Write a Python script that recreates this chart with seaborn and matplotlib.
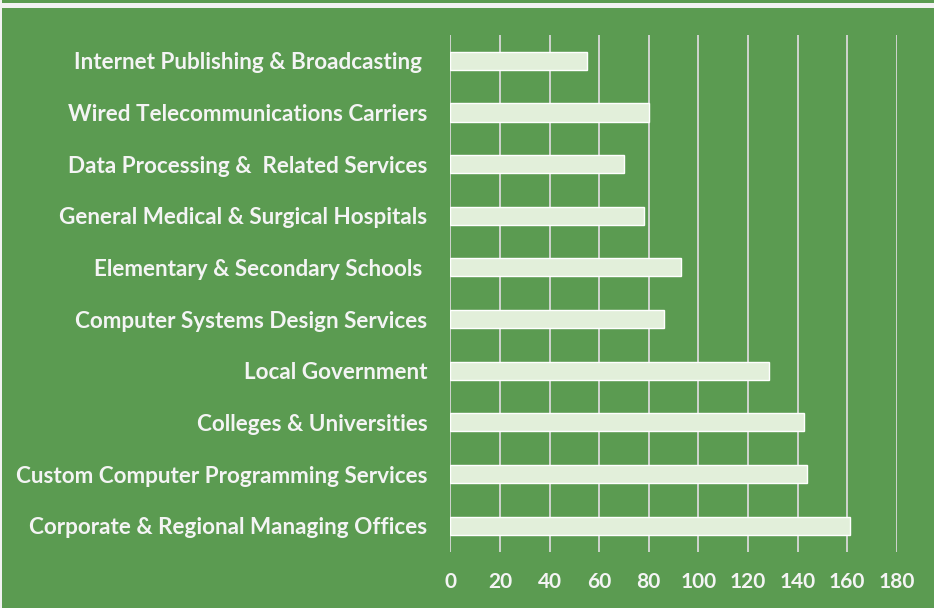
import matplotlib
matplotlib.use("Agg")
import matplotlib.pyplot as plt
import seaborn as sns
import pandas as pd
from matplotlib.patches import Rectangle

industries = [
    "Internet Publishing & Broadcasting ",
    "Wired Telecommunications Carriers",
    "Data Processing &  Related Services",
    "General Medical & Surgical Hospitals",
    "Elementary & Secondary Schools ",
    "Computer Systems Design Services",
    "Local Government",
    "Colleges & Universities",
    "Custom Computer Programming Services",
    "Corporate & Regional Managing Offices",
]
values = [55, 80, 70, 78, 93, 86, 128.5, 142.5, 144, 161]
x_ticks = [0, 20, 40, 60, 80, 100, 120, 140, 160, 180]

GREEN = "#5B9B51"
BAR = "#E2EFDA"
GRID = "#D9D9D9"
TEXT = "#F4F4F4"

sns.set_theme(style="white")
plt.rcParams["font.family"] = ["Lato", "DejaVu Sans"]

df = pd.DataFrame({"industry": industries, "value": values})

fig = plt.figure(figsize=(9.34, 6.08), dpi=100, facecolor=GREEN)
# top strip and left edge (cropped sheet border)
fig.patches.append(Rectangle((0, 1 - 8 / 608), 1, 5 / 608, transform=fig.transFigure,
                             facecolor="#F2F2F2", edgecolor="none", zorder=0))
fig.patches.append(Rectangle((0, 0), 2 / 934, 1, transform=fig.transFigure,
                             facecolor="#F2F2F2", edgecolor="none", zorder=0))

ax = fig.add_axes([450.3 / 934, 1 - 551.5 / 608, (896.7 - 450.3) / 934, (551.5 - 35) / 608])
ax.set_facecolor(GREEN)
sns.barplot(data=df, y="industry", x="value", orient="h", color=BAR, width=0.35,
            saturation=1, ax=ax, zorder=3)

ax.set_xlim(0, 180)
ax.set_xticks(x_ticks)
ax.set_xticklabels([str(t) for t in x_ticks])
ax.grid(axis="x", color=GRID, linewidth=1.3, zorder=0)
ax.set_axisbelow(True)
for s in ax.spines.values():
    s.set_visible(False)
ax.set_xlabel("")
ax.set_ylabel("")
ax.tick_params(axis="x", length=0, pad=15, labelsize=15, labelcolor=TEXT)
ax.tick_params(axis="y", length=0, pad=16.5, labelsize=16.2, labelcolor=TEXT)
for lbl in ax.get_xticklabels() + ax.get_yticklabels():
    lbl.set_fontweight("bold")

fig.savefig("out.png", dpi=100, facecolor=GREEN)
